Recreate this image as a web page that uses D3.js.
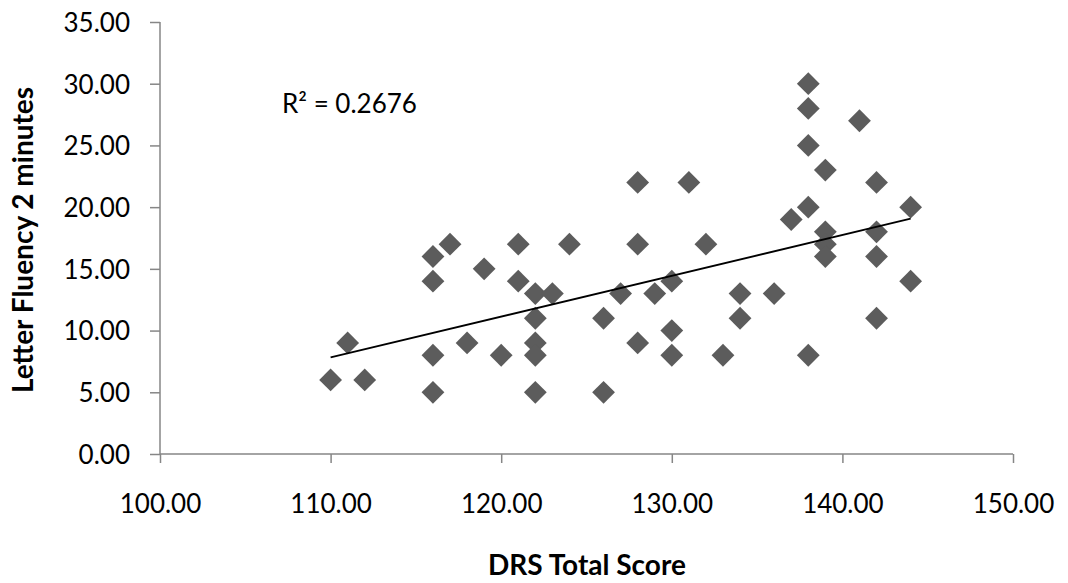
<!DOCTYPE html>
<html>
<head>
<meta charset="utf-8">
<script src="https://cdn.jsdelivr.net/npm/d3@7"></script>
<style>
  html, body { margin: 0; padding: 0; background: #fff; }
  svg { display: block; }
  text { font-family: Lato, "Open Sans", sans-serif; fill: #000; }
</style>
</head>
<body>
<svg id="chart" width="1068" height="583"></svg>
<script>
// DRS Total Score (x) and Letter Fluency 2 minutes (y)
const drsScore = [110,111,112,116,116,116,116,117,118,119,120,121,121,122,122,122,122,122,123,124,
  126,126,127,128,128,128,129,130,130,130,131,132,133,134,134,136,137,138,138,138,138,138,
  139,139,139,139,141,142,142,142,142,144,144];
const letterFluency = [6,9,6,16,14,8,5,17,9,15,8,17,14,13,11,9,8,5,13,17,
  11,5,13,22,17,9,13,14,10,8,22,17,8,13,11,13,19,30,28,25,20,8,
  23,18,17,16,27,22,18,16,11,20,14];
// linear trendline as drawn in the reference
const trendSlope = 0.3306;
const trendIntercept = -28.54;
const xTicks = [100,110,120,130,140,150];
const yTicks = [0,5,10,15,20,25,30,35];
const xTitle = "DRS Total Score";
const yTitle = "Letter Fluency 2 minutes";
const r2Label = "R\u00B2 = 0.2676";

const svg = d3.select("#chart");
const x = d3.scaleLinear().domain([100,150]).range([160,1013]);
const y = d3.scaleLinear().domain([0,35]).range([454,22]);
const axisColor = "#868686";
const fmt = d3.format(".2f");

// Y axis
const yAxis = svg.append("g").attr("transform", `translate(${x(100)},0)`)
  .call(d3.axisLeft(y).tickValues(yTicks).tickFormat(fmt).tickSize(10).tickPadding(20));
// X axis
const xAxis = svg.append("g").attr("transform", `translate(0,${y(0)})`)
  .call(d3.axisBottom(x).tickValues(xTicks).tickFormat(fmt).tickSize(9).tickPadding(22));
[yAxis, xAxis].forEach(g => {
  g.select(".domain").attr("stroke", axisColor).attr("stroke-width", 1.5);
  g.selectAll(".tick line").attr("stroke", axisColor).attr("stroke-width", 1.5);
  g.selectAll(".tick text").attr("font-size", 26).attr("font-family", "Lato, sans-serif").attr("fill", "#000");
});
xAxis.selectAll(".tick text").attr("y", 59).attr("dy", 0);
yAxis.selectAll(".tick text").attr("x", -30).attr("dy", "0.36em");
yAxis.select(".domain").attr("d", `M0,${y(35)}V${y(0)}`);
xAxis.select(".domain").attr("d", `M${x(100)},0H${x(150)}`);

// Points (diamonds)
const sym = d3.symbol().type(d3.symbolSquare).size(260);
svg.append("g").selectAll("path").data(drsScore.map((d,i)=>[d, letterFluency[i]]))
  .join("path")
  .attr("d", sym)
  .attr("transform", d => `translate(${x(d[0])},${y(d[1])}) rotate(45)`)
  .attr("fill", "#5c5c5c");

// Linear trendline
const x0 = d3.min(drsScore), x1 = d3.max(drsScore);
svg.append("line")
  .attr("x1", x(x0)).attr("y1", y(trendIntercept + trendSlope*x0))
  .attr("x2", x(x1)).attr("y2", y(trendIntercept + trendSlope*x1))
  .attr("stroke", "#000").attr("stroke-width", 1.8);

// R² label
svg.append("text").attr("x", 282).attr("y", 113).attr("font-size", 26).text(r2Label);

// Titles
svg.append("text").attr("x", 587).attr("y", 575).attr("text-anchor", "middle")
  .attr("font-size", 28).attr("font-weight", "bold").text(xTitle);
svg.append("text").attr("transform", "translate(33,240) rotate(-90)").attr("text-anchor", "middle")
  .attr("font-size", 28).attr("font-weight", "bold").text(yTitle);
</script>
</body>
</html>
